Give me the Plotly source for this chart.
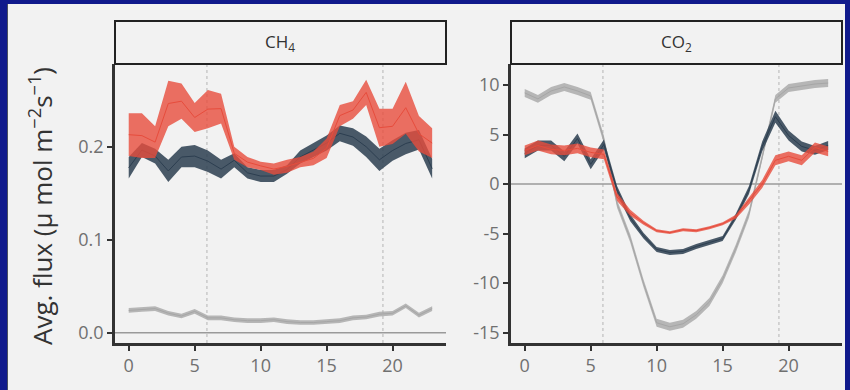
import plotly.graph_objects as go

hours = list(range(24))

# CH4 panel (mean and standard error)
ch4_red_mean = [0.213, 0.212, 0.205, 0.2465, 0.249, 0.2315, 0.2405, 0.241, 0.193, 0.1835, 0.1795, 0.176,
                0.179, 0.1835, 0.1875, 0.1985, 0.2335, 0.2395, 0.2585, 0.2205, 0.222, 0.242, 0.214, 0.204]
ch4_red_se = [0.023, 0.024, 0.017, 0.0245, 0.019, 0.0155, 0.0205, 0.016, 0.007, 0.0055, 0.0045, 0.006,
              0.007, 0.0055, 0.0075, 0.0105, 0.0115, 0.0095, 0.0135, 0.0205, 0.019, 0.028, 0.019, 0.016]
ch4_navy_mean = [0.1775, 0.1965, 0.19, 0.174, 0.189, 0.19, 0.1845, 0.176, 0.1855, 0.172, 0.1685, 0.1685,
                 0.1755, 0.189, 0.1965, 0.204, 0.2145, 0.2105, 0.2, 0.186, 0.196, 0.2035, 0.2075, 0.1765]
ch4_navy_se = [0.0115, 0.0075, 0.008, 0.012, 0.011, 0.012, 0.0115, 0.01, 0.0075, 0.006, 0.0065, 0.0065,
               0.0045, 0.007, 0.0075, 0.008, 0.0085, 0.0095, 0.011, 0.012, 0.011, 0.0115, 0.0105, 0.0105]
ch4_gray_mean = [0.024, 0.025, 0.026, 0.021, 0.018, 0.023, 0.016, 0.016, 0.014, 0.013, 0.013, 0.014,
                 0.012, 0.011, 0.011, 0.012, 0.013, 0.016, 0.017, 0.020, 0.021, 0.029, 0.019, 0.026]
ch4_gray_se = [0.0025] * 24

# CO2 panel
co2_red_mean = [3.4, 3.9, 3.5, 3.4, 3.6, 3.2, 3.0, -1.3, -2.9, -3.9, -4.7, -4.9,
                -4.6, -4.7, -4.4, -4.0, -3.3, -1.7, 0.0, 2.4, 2.8, 2.4, 3.7, 3.3]
co2_red_se = [0.5, 0.5, 0.5, 0.5, 0.5, 0.5, 0.5, 0.4, 0.3, 0.2, 0.15, 0.15,
              0.15, 0.15, 0.15, 0.15, 0.2, 0.35, 0.4, 0.5, 0.5, 0.5, 0.5, 0.5]
co2_navy_mean = [3.1, 3.9, 3.9, 2.8, 4.6, 2.0, 4.0, -0.6, -3.4, -5.2, -6.6, -6.9,
                 -6.8, -6.3, -5.9, -5.5, -3.3, -0.6, 3.8, 6.8, 4.9, 3.8, 3.4, 3.9]
co2_navy_se = [0.5, 0.5, 0.5, 0.5, 0.5, 0.5, 0.5, 0.4, 0.35, 0.3, 0.25, 0.25,
               0.25, 0.25, 0.25, 0.25, 0.3, 0.4, 0.5, 0.6, 0.5, 0.5, 0.45, 0.45]
co2_gray_mean = [9.2, 8.6, 9.4, 9.8, 9.4, 8.9, 4.5, -2.0, -5.5, -10.0, -14.0, -14.4,
                 -14.1, -13.2, -11.9, -9.6, -6.5, -3.0, 2.7, 8.6, 9.7, 9.9, 10.1, 10.2]
co2_gray_se = [0.4] * 24

sun_times = [5.93, 19.27]
panel_titles = ["CH<sub>4</sub>", "CO<sub>2</sub>"]
ch4_ticks = [0.0, 0.1, 0.2]
ch4_ticktext = ["0.0", "0.1", "0.2"]
co2_ticks = [-15, -10, -5, 0, 5, 10]
co2_ticktext = ["-15", "-10", "-5", "0", "5", "10"]
x_ticks = [0, 5, 10, 15, 20]

RED = "#E74C3C"
NAVY = "#2C3E50"
GRAY = "#A6A6A6"
BG = "#F2F2F2"


def rgba(hexc, a):
    h = hexc.lstrip("#")
    return f"rgba({int(h[0:2],16)},{int(h[2:4],16)},{int(h[4:6],16)},{a})"


fig = go.Figure()


def add_series(mean, se, color, alpha, xa, ya):
    upper = [m + s for m, s in zip(mean, se)]
    lower = [m - s for m, s in zip(mean, se)]
    fig.add_trace(go.Scatter(x=hours + hours[::-1], y=upper + lower[::-1], fill="toself",
                             fillcolor=rgba(color, alpha), line=dict(width=0), mode="lines",
                             hoverinfo="skip", showlegend=False, xaxis=xa, yaxis=ya))
    fig.add_trace(go.Scatter(x=hours, y=mean, mode="lines", line=dict(color=color, width=1),
                             showlegend=False, xaxis=xa, yaxis=ya))


add_series(ch4_gray_mean, ch4_gray_se, GRAY, 0.8, "x", "y")
add_series(ch4_navy_mean, ch4_navy_se, NAVY, 0.85, "x", "y")
add_series(ch4_red_mean, ch4_red_se, RED, 0.8, "x", "y")
add_series(co2_gray_mean, co2_gray_se, GRAY, 0.8, "x2", "y2")
add_series(co2_navy_mean, co2_navy_se, NAVY, 0.85, "x2", "y2")
add_series(co2_red_mean, co2_red_se, RED, 0.8, "x2", "y2")

W, H = 850, 390
dom1 = [115 / W, 446 / W]
dom2 = [511 / W, 842 / W]
ydom = [(H - 343) / H, (H - 64) / H]
xr = [-1.04, 24.05]

axis_common = dict(showgrid=False, zeroline=False, showline=True, linecolor="#333333", linewidth=2.5,
                   ticks="outside", ticklen=5, tickwidth=1.5, tickcolor="#333333",
                   tickfont=dict(family="Open Sans", size=18, color="#707070"))

fig.update_layout(
    width=W, height=H, margin=dict(l=0, r=0, t=0, b=0),
    paper_bgcolor=BG, plot_bgcolor=BG, showlegend=False,
    xaxis=dict(domain=dom1, range=xr, tickvals=x_ticks, anchor="y", **axis_common),
    yaxis=dict(domain=ydom, range=[-0.011, 0.289], tickvals=ch4_ticks, ticktext=ch4_ticktext,
               anchor="x", **axis_common),
    xaxis2=dict(domain=dom2, range=xr, tickvals=x_ticks, anchor="y2", **axis_common),
    yaxis2=dict(domain=ydom, range=[-16.04, 12.12], tickvals=co2_ticks, ticktext=co2_ticktext,
                anchor="x2", **axis_common),
)

shapes = []
for xa, ya, dom in [("x", "y", dom1), ("x2", "y2", dom2)]:
    for t in sun_times:
        shapes.append(dict(type="line", xref=xa, yref=f"{ya} domain", x0=t, x1=t, y0=0, y1=1,
                           line=dict(color="#b5b5b5", width=1, dash="dot"), layer="below"))
    shapes.append(dict(type="line", xref=f"{xa} domain", yref=ya, x0=0, x1=1, y0=0, y1=0,
                       line=dict(color="#9a9a9a", width=1.5), layer="below"))
    # strip
    shapes.append(dict(type="rect", xref="paper", yref="paper", x0=dom[0], x1=dom[1],
                       y0=(H - 64) / H, y1=(H - 21) / H, fillcolor=BG,
                       line=dict(color="#222222", width=2)))

# frame border
shapes.append(dict(type="rect", xref="paper", yref="paper", x0=0, x1=7 / W, y0=0, y1=1,
                   fillcolor="#101a8c", line=dict(width=0)))
shapes.append(dict(type="rect", xref="paper", yref="paper", x0=0, x1=1, y0=1 - 4 / H, y1=1,
                   fillcolor="#101a8c", line=dict(width=0)))
shapes.append(dict(type="rect", xref="paper", yref="paper", x0=1 - 5 / W, x1=1, y0=0, y1=1,
                   fillcolor="#101a8c", line=dict(width=0)))
shapes.append(dict(type="line", xref="paper", yref="paper", x0=7.5 / W, x1=7.5 / W, y0=0, y1=1 - 4 / H,
                   line=dict(color="#4a5060", width=1)))
fig.update_layout(shapes=shapes)

annotations = []
for title, dom in zip(panel_titles, [dom1, dom2]):
    annotations.append(dict(text=title, xref="paper", yref="paper", x=(dom[0] + dom[1]) / 2,
                            y=(H - 42.5) / H, showarrow=False, xanchor="center", yanchor="middle",
                            font=dict(family="Open Sans", size=17, color="#333333")))
annotations.append(dict(text="Avg. flux (µ mol m<sup>−2</sup>s<sup>−1</sup>)", xref="paper", yref="paper",
                        x=41 / W, y=(H - 206) / H, textangle=-90, showarrow=False,
                        xanchor="center", yanchor="middle",
                        font=dict(family="Open Sans", size=26, color="#333333")))
fig.update_layout(annotations=annotations)

fig.write_html("out.html", config={"displayModeBar": False},
               post_script="document.body.style.margin='0';document.body.style.background='#F2F2F2';")
